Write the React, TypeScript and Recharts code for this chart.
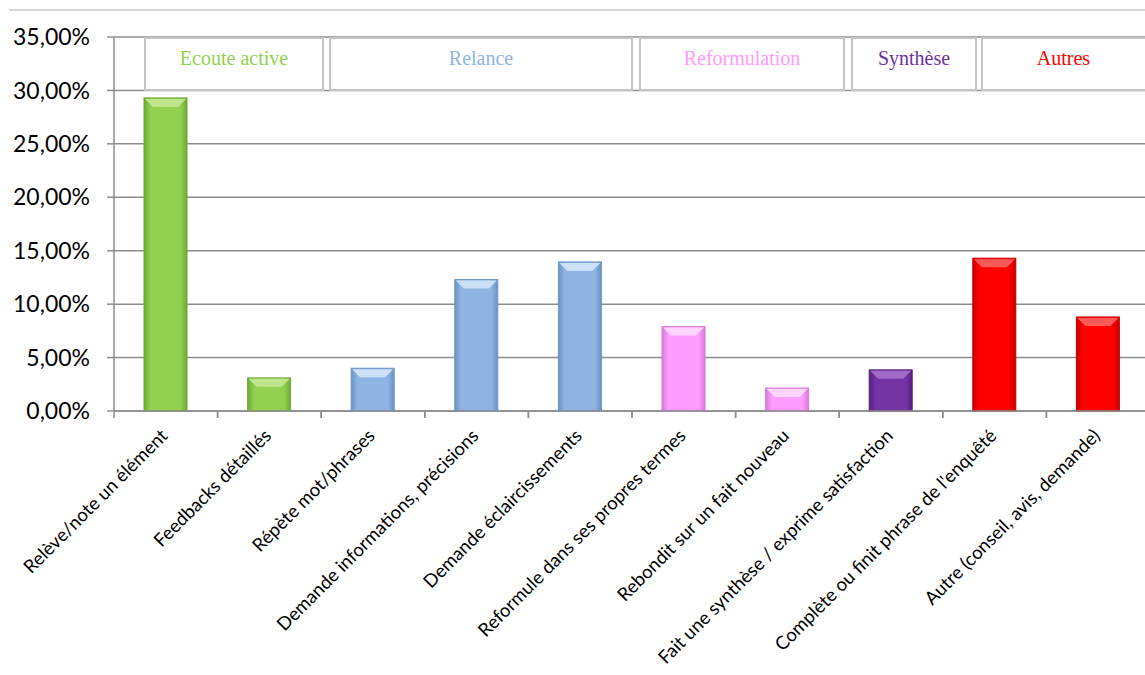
import React from 'react';
import { BarChart, Bar, XAxis, YAxis, CartesianGrid } from 'recharts';

// Categories along the x axis
const CATEGORIES = [
  'Relève/note un élément',
  'Feedbacks détaillés',
  'Répète mot/phrases',
  'Demande informations, précisions',
  'Demande éclaircissements',
  'Reformule dans ses propres termes',
  'Rebondit sur un fait nouveau',
  'Fait une synthèse / exprime satisfaction',
  "Complète ou finit phrase de l'enquêté",
  'Autre (conseil, avis, demande)',
];

// Percent values
const VALUES = [29.3, 3.1, 4.0, 12.3, 13.95, 7.9, 2.15, 3.85, 14.3, 8.8];

// Group of each category
const GROUPS = [
  'ecoute', 'ecoute',
  'relance', 'relance', 'relance',
  'reformulation', 'reformulation',
  'synthese',
  'autres', 'autres',
];

const Y_TICKS = [0, 5, 10, 15, 20, 25, 30, 35];

const GROUP_LABELS = ['Ecoute active', 'Relance', 'Reformulation', 'Synthèse', 'Autres'];
const GROUP_KEYS = ['ecoute', 'relance', 'reformulation', 'synthese', 'autres'];

// Colors per group: base, light bevel, dark edge
const PALETTE: Record<string, { base: string; light: string; dark: string; text: string }> = {
  ecoute: { base: '#92D050', light: '#bfe68c', dark: '#6fa832', text: '#92D050' },
  relance: { base: '#8DB4E2', light: '#cde1f6', dark: '#6b93c2', text: '#8DB4E2' },
  reformulation: { base: '#FF9CFF', light: '#ffd4ff', dark: '#d77ad7', text: '#FF99FF' },
  synthese: { base: '#7534A6', light: '#a06bc7', dark: '#55207d', text: '#7030A0' },
  autres: { base: '#FF0000', light: '#ff5a5a', dark: '#c80000', text: '#FF0000' },
};

// Annotation box layout (pixels, page coordinates)
const BOX_X = [[145, 323], [330, 632], [640, 844], [852, 976], [982, 1160]];
const BOX_TOP = 38;
const BOX_BOTTOM = 90;

const data = CATEGORIES.map((name, i) => ({ name, value: VALUES[i], group: GROUPS[i] }));

const fmtPct = (v: number) => `${v.toFixed(2).replace('.', ',')}%`;

const BevelBar = (props: any) => {
  const { x, y, width, height, payload } = props;
  if (!height || height <= 0) return null;
  const c = PALETTE[payload.group];
  const b = Math.min(9, height / 2);
  return (
    <g>
      <rect x={x} y={y} width={width} height={height} fill={`url(#grad-${payload.group})`} stroke={c.dark} strokeWidth={1} />
      <polygon
        points={`${x + 1},${y + 1} ${x + width - 1},${y + 1} ${x + width - b},${y + b} ${x + b},${y + b}`}
        fill={c.light}
      />
    </g>
  );
};

const XTick = (props: any) => {
  const { x, y, payload } = props;
  const half = payload && payload.offset ? payload.offset : 51.8;
  return (
    <g>
      <line x1={x - half} y1={y} x2={x - half} y2={y + 7} stroke="#8c8c8c" strokeWidth={1.5} />
      <line x1={x + half} y1={y} x2={x + half} y2={y + 7} stroke="#8c8c8c" strokeWidth={1.5} />
      <g transform={`translate(${x + 3},${y + 26})`}>
        <text
          x={0}
          y={0}
          transform="rotate(-45)"
          textAnchor="end"
          fontFamily="Lato, 'Noto Sans', sans-serif"
          fontSize={18.5}
          fill="#000"
        >
          {payload.value}
        </text>
      </g>
    </g>
  );
};

export default function App() {
  return (
    <div style={{ position: 'absolute', left: 0, top: 0, width: 1145, height: 675, overflow: 'hidden', background: '#fff' }}>
      <BarChart
        width={1160}
        height={675}
        data={data}
        margin={{ top: 37, right: 10, bottom: 0, left: 0 }}
        barSize={43}
      >
        <defs>
          {GROUP_KEYS.map((k) => (
            <linearGradient key={k} id={`grad-${k}`} x1="0" y1="0" x2="1" y2="0">
              <stop offset="0%" stopColor={PALETTE[k].dark} />
              <stop offset="15%" stopColor={PALETTE[k].base} />
              <stop offset="85%" stopColor={PALETTE[k].base} />
              <stop offset="100%" stopColor={PALETTE[k].dark} />
            </linearGradient>
          ))}
        </defs>
        <CartesianGrid vertical={false} stroke="#8c8c8c" strokeWidth={1.5} />
        <XAxis
          dataKey="name"
          interval={0}
          height={264}
          tickLine={false}
          tickSize={0}
          tickMargin={0}
          axisLine={{ stroke: '#8c8c8c', strokeWidth: 1.5 }}
          tick={<XTick />}
        />
        <YAxis
          width={114}
          domain={[0, 35]}
          ticks={Y_TICKS}
          interval={0}
          tickFormatter={fmtPct}
          tickSize={7}
          tickMargin={17}
          tickLine={{ stroke: '#8c8c8c', strokeWidth: 1.5 }}
          axisLine={{ stroke: '#8c8c8c', strokeWidth: 1.5 }}
          tick={{ fill: '#000', fontSize: 23, fontFamily: "Lato, 'Noto Sans', sans-serif" }}
        />
        <Bar dataKey="value" shape={<BevelBar />} isAnimationActive={false} />
      </BarChart>
      <svg
        width={1145}
        height={675}
        style={{ position: 'absolute', left: 0, top: 0, pointerEvents: 'none' }}
      >
        <line x1={9} y1={10} x2={1145} y2={10} stroke="#c8c8c8" strokeWidth={1.5} />
        {GROUP_LABELS.map((label, i) => {
          const [x1, x2] = BOX_X[i];
          return (
            <g key={label}>
              <rect
                x={x1}
                y={BOX_TOP}
                width={x2 - x1}
                height={BOX_BOTTOM - BOX_TOP}
                fill="#fff"
                stroke="#c4c4c4"
                strokeWidth={2}
              />
              <text
                x={(x1 + Math.min(x2, 1145)) / 2}
                y={65}
                textAnchor="middle"
                fontFamily="'Liberation Serif', 'DejaVu Serif', serif"
                fontSize={20}
                fill={PALETTE[GROUP_KEYS[i]].text}
              >
                {label}
              </text>
            </g>
          );
        })}
      </svg>
    </div>
  );
}
